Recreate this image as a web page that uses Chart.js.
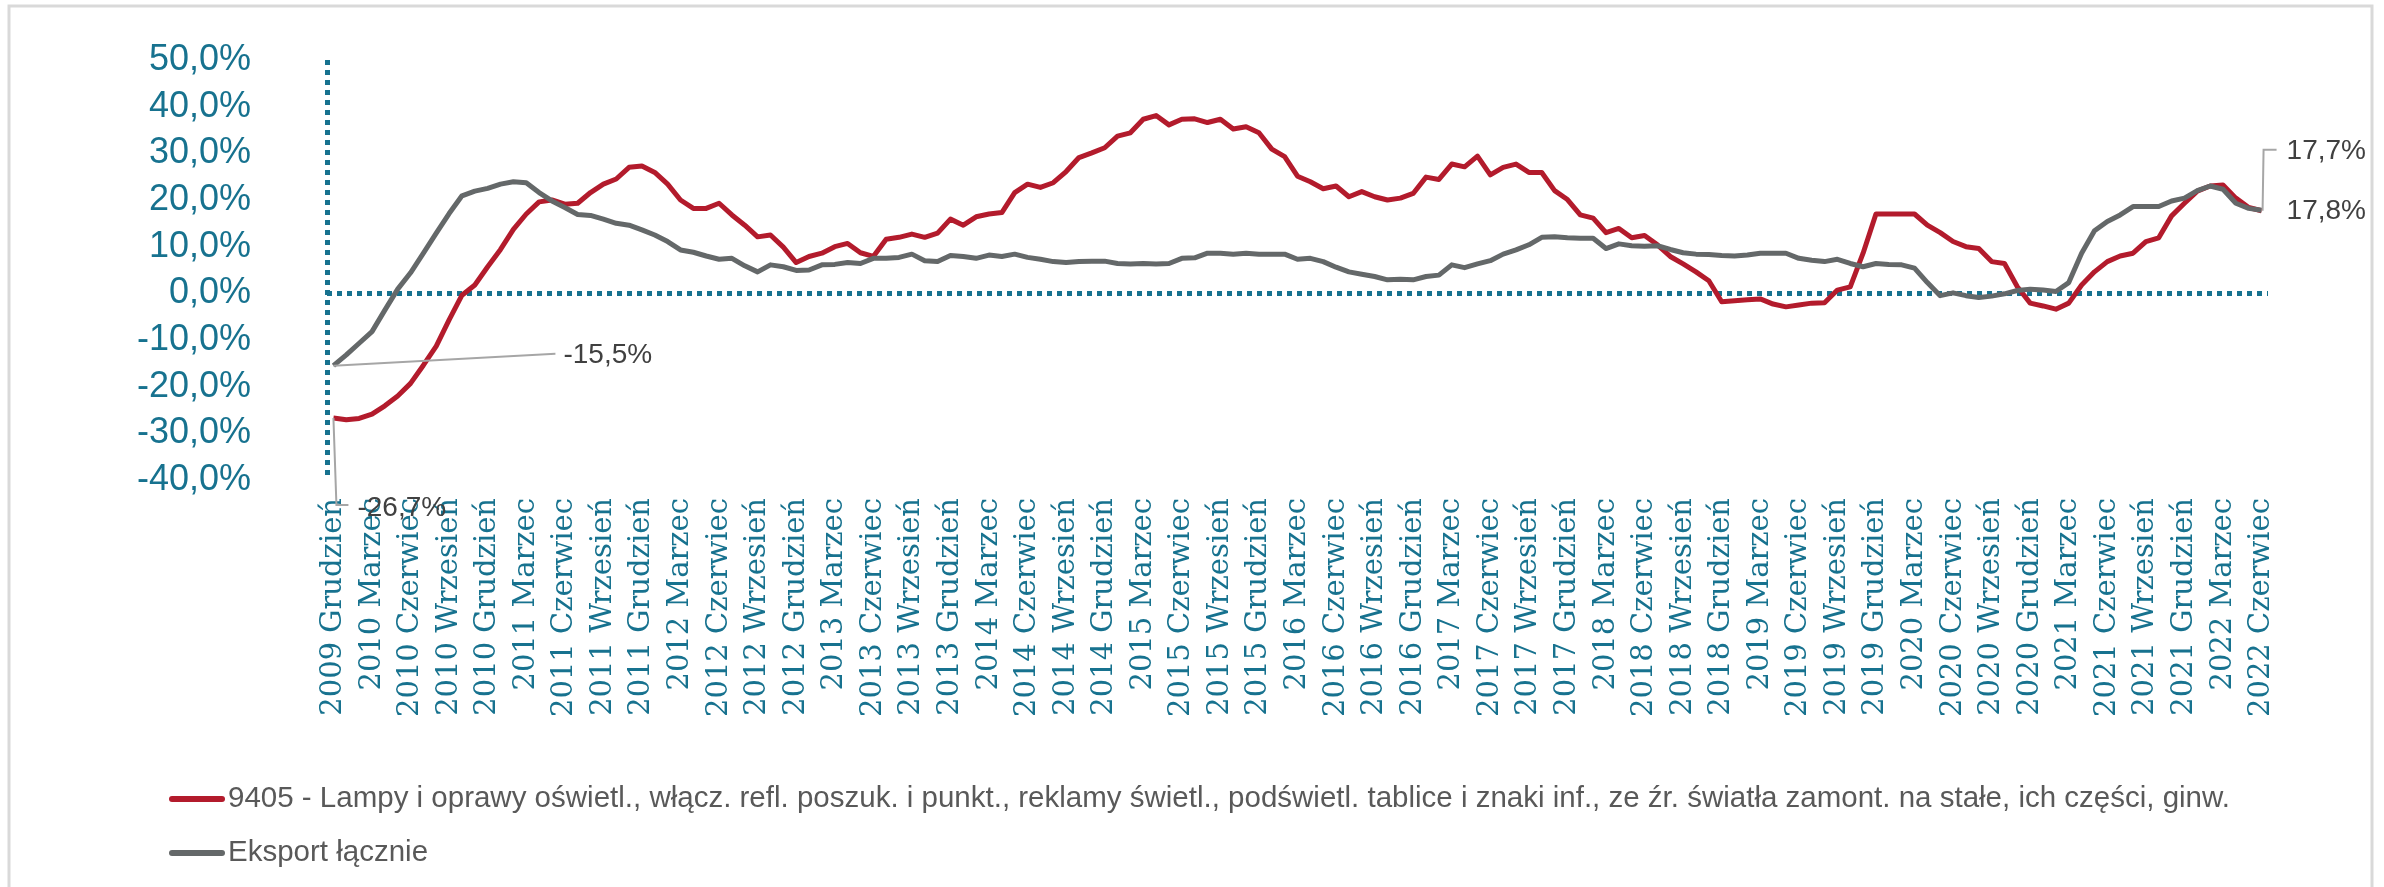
<!DOCTYPE html>
<html>
<head>
<meta charset="utf-8">
<script src="https://cdn.jsdelivr.net/npm/chart.js@4.4.1/dist/chart.umd.min.js"></script>
<style>
  html, body { margin: 0; padding: 0; background: #fff; }
  #wrap { width: 2384px; height: 887px; }
</style>
</head>
<body>
<div id="wrap"><canvas id="chart" width="2384" height="887"></canvas></div>
<script>
// Months Dec 2009 .. Jun 2022, one point each
const monthNames = ['Styczeń', 'Luty', 'Marzec', 'Kwiecień', 'Maj', 'Czerwiec', 'Lipiec', 'Sierpień', 'Wrzesień', 'Październik', 'Listopad', 'Grudzień'];
const categories = ['2009 Grudzień'];
for (let y = 2010; y <= 2022; y++) {
    for (let m = 0; m < 12; m++) {
        if (y === 2022 && m > 5) break;
        categories.push(y + ' ' + monthNames[m]);
    }
}

const lampLabel = '9405 - Lampy i oprawy oświetl., włącz. refl. poszuk. i punkt., reklamy świetl., podświetl. tablice i znaki inf., ze źr. światła zamont. na stałe, ich części, ginw.';
const totalLabel = 'Eksport łącznie';

const lampValues = [
    -26.7, -27.1, -26.8, -25.9, -24.1, -22.0, -19.3, -15.4, -11.3, -5.7, -0.4, 1.8,
    5.7, 9.4, 13.7, 17.0, 19.6, 20.0, 19.1, 19.3, 21.6, 23.4, 24.5, 27.0,
    27.3, 25.9, 23.4, 20.0, 18.2, 18.2, 19.3, 16.8, 14.6, 12.1, 12.5, 9.9,
    6.6, 7.9, 8.6, 10.0, 10.7, 8.7, 7.9, 11.6, 12.0, 12.7, 12.0, 12.9,
    15.9, 14.6, 16.4, 17.0, 17.3, 21.6, 23.4, 22.7, 23.7, 26.1, 29.1, 30.1,
    31.2, 33.7, 34.4, 37.3, 38.1, 36.1, 37.3, 37.4, 36.6, 37.3, 35.2, 35.7,
    34.4, 30.9, 29.3, 25.1, 23.9, 22.4, 23.0, 20.7, 21.8, 20.7, 20.0, 20.4,
    21.4, 24.9, 24.4, 27.7, 27.1, 29.4, 25.4, 27.0, 27.7, 25.9, 25.9, 22.0,
    20.1, 16.8, 16.1, 13.0, 13.9, 11.9, 12.4, 10.4, 7.9, 6.3, 4.6, 2.7,
    -1.8, -1.6, -1.4, -1.2, -2.3, -2.9, -2.5, -2.1, -2.0, 0.7, 1.4, 8.6,
    17.0, 17.0, 17.0, 17.0, 14.6, 13.0, 11.1, 10.0, 9.6, 6.8, 6.4, 1.4,
    -2.1, -2.7, -3.4, -2.1, 1.8, 4.6, 6.8, 8.0, 8.6, 11.1, 11.9, 16.6,
    19.3, 21.9, 23.0, 23.2, 20.4, 18.4, 17.7
];

const totalValues = [
    -15.5, -13.2, -10.7, -8.2, -3.6, 0.9, 4.4, 8.6, 12.9, 17.1, 20.9, 21.9,
    22.5, 23.4, 23.9, 23.7, 21.6, 19.8, 18.4, 16.9, 16.7, 15.9, 15.0, 14.6,
    13.6, 12.5, 11.1, 9.3, 8.8, 8.0, 7.3, 7.5, 5.9, 4.6, 6.1, 5.7,
    4.9, 5.0, 6.1, 6.2, 6.6, 6.4, 7.5, 7.5, 7.7, 8.4, 7.0, 6.8,
    8.1, 7.9, 7.5, 8.2, 7.9, 8.4, 7.7, 7.3, 6.8, 6.6, 6.8, 6.9,
    6.9, 6.4, 6.3, 6.4, 6.3, 6.4, 7.5, 7.6, 8.6, 8.6, 8.4, 8.6,
    8.4, 8.4, 8.4, 7.3, 7.5, 6.8, 5.6, 4.6, 4.1, 3.6, 2.9, 3.0,
    2.9, 3.6, 3.9, 6.1, 5.5, 6.3, 7.0, 8.4, 9.3, 10.4, 12.0, 12.1,
    11.9, 11.8, 11.8, 9.6, 10.6, 10.2, 10.1, 10.2, 9.4, 8.7, 8.4, 8.3,
    8.1, 8.0, 8.2, 8.6, 8.6, 8.6, 7.5, 7.1, 6.8, 7.3, 6.4, 5.7,
    6.4, 6.2, 6.1, 5.4, 2.3, -0.5, 0.1, -0.5, -0.9, -0.6, -0.1, 0.6,
    0.9, 0.7, 0.4, 2.3, 8.6, 13.4, 15.4, 16.8, 18.6, 18.6, 18.6, 19.8,
    20.4, 22.0, 23.0, 22.3, 19.3, 18.2, 17.8
];

const teal = '#17728f';
const fmt = v => v.toFixed(1).replace('.', ',') + '%';

// Leader-line value labels at the first and last points
const valueLabels = {
    id: 'valueLabels',
    afterDatasetsDraw(chart) {
        const ctx = chart.ctx;
        const red = chart.getDatasetMeta(0).data;
        const grey = chart.getDatasetMeta(1).data;
        const r0 = red[0], g0 = grey[0];
        const rN = red[red.length - 1], gN = grey[grey.length - 1];
        ctx.save();
        ctx.strokeStyle = '#a6a6a6';
        ctx.lineWidth = 2;
        ctx.beginPath();
        ctx.moveTo(g0.x, g0.y); ctx.lineTo(g0.x + 222, g0.y - 12);
        ctx.moveTo(r0.x, r0.y); ctx.lineTo(r0.x + 3, r0.y + 87); ctx.lineTo(r0.x + 15, r0.y + 87);
        ctx.moveTo(rN.x + 1, rN.y); ctx.lineTo(rN.x + 2, rN.y - 61); ctx.lineTo(rN.x + 15, rN.y - 61);
        ctx.stroke();
        ctx.fillStyle = '#404040';
        ctx.font = '28px "Liberation Sans", Arial, sans-serif';
        ctx.textAlign = 'left';
        ctx.textBaseline = 'middle';
        ctx.fillText(fmt(totalValues[0]), g0.x + 230, g0.y - 10);
        ctx.fillText(fmt(lampValues[0]), r0.x + 24, r0.y + 90);
        ctx.fillText(fmt(lampValues[lampValues.length - 1]), rN.x + 25, rN.y - 59);
        ctx.fillText(fmt(totalValues[totalValues.length - 1]), gN.x + 25, gN.y + 1);
        ctx.restore();
    }
};

// Legend stacked one entry per row, plus the chart frame
const stackedLegend = {
    id: 'stackedLegend',
    afterDraw(chart) {
        const ctx = chart.ctx;
        const rows = [799, 853];
        ctx.save();
        ctx.font = '29.5px "Liberation Sans", Arial, sans-serif';
        ctx.textBaseline = 'middle';
        chart.data.datasets.forEach((ds, i) => {
            ctx.strokeStyle = ds.borderColor;
            ctx.lineWidth = 6;
            ctx.lineCap = 'round';
            ctx.beginPath();
            ctx.moveTo(172, rows[i]); ctx.lineTo(222, rows[i]);
            ctx.stroke();
            ctx.fillStyle = '#595959';
            ctx.fillText(ds.label, 228, rows[i]);
        });
        ctx.strokeStyle = '#d9d9d9';
        ctx.lineWidth = 3;
        ctx.strokeRect(9, 6, 2363, 900);
        ctx.restore();
    }
};

new Chart(document.getElementById('chart'), {
    type: 'line',
    data: {
        labels: categories,
        datasets: [{
            label: lampLabel,
            data: lampValues,
            borderColor: '#b31b2c',
            borderWidth: 5,
            pointRadius: 0,
            tension: 0,
            borderJoinStyle: 'round',
            order: 2
        }, {
            label: totalLabel,
            data: totalValues,
            borderColor: '#646869',
            borderWidth: 5,
            pointRadius: 0,
            tension: 0,
            borderJoinStyle: 'round',
            order: 1
        }]
    },
    options: {
        responsive: false,
        animation: false,
        devicePixelRatio: 1,
        layout: { padding: { top: 60, right: 116, bottom: 0, left: 0 } },
        plugins: {
            legend: { display: false },
            tooltip: { enabled: false }
        },
        scales: {
            x: {
                offset: true,
                grid: {
                    offset: true,
                    drawTicks: false,
                    lineWidth: 5,
                    color: c => c.index === 0 ? teal : 'rgba(0,0,0,0)'
                },
                border: { display: false, dash: [5, 5] },
                ticks: {
                    autoSkip: false,
                    maxRotation: 90,
                    minRotation: 90,
                    padding: 18,
                    color: teal,
                    font: { family: '"DejaVu Serif", serif', size: 29 },
                    callback: (v, i) => i % 3 === 0 ? categories[i] : ''
                },
                afterFit: s => { s.height = 407; }
            },
            y: {
                min: -40,
                max: 50,
                grid: {
                    drawTicks: false,
                    lineWidth: 5,
                    color: c => c.tick && c.tick.value === 0 ? teal : 'rgba(0,0,0,0)'
                },
                border: { display: false, dash: [5, 5] },
                ticks: {
                    autoSkip: false,
                    stepSize: 10,
                    padding: 76,
                    color: teal,
                    font: { family: '"Liberation Sans", Arial, sans-serif', size: 36 },
                    callback: v => fmt(v)
                },
                afterFit: s => {
                    s.width = 327;
                    // label padding is horizontal only, keep it out of the top/bottom
                    s.paddingTop = 0;
                    s.paddingBottom = 0;
                }
            }
        }
    },
    plugins: [valueLabels, stackedLegend]
});
</script>
</body>
</html>
